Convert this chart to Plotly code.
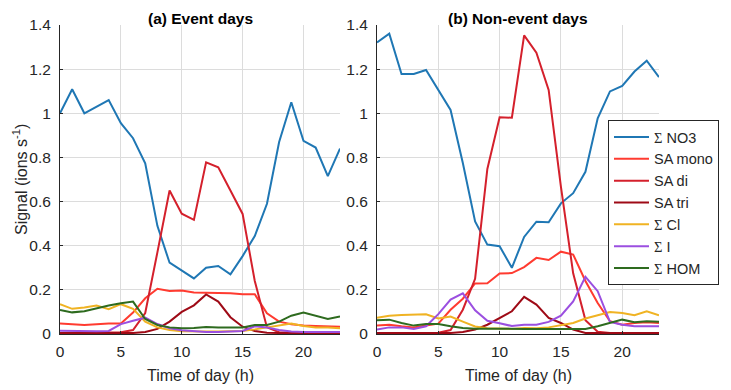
import plotly.graph_objects as go

# --- Data: hourly means, hour of day 0..23
hours = list(range(24))

names = ["\u03a3 NO3", "SA mono", "SA di", "SA tri", "\u03a3 Cl", "\u03a3 I", "\u03a3 HOM"]
colors = ["#1f77b4", "#ff3b30", "#d4202c", "#9e0a16", "#f0b323", "#9b4fe0", "#2e6b1f"]

# (a) Event days
ev_no3 = [1.0, 1.109, 1.0, 1.03, 1.06, 0.955, 0.887, 0.773, 0.49, 0.323, 0.287, 0.252,
          0.30, 0.308, 0.27, 0.353, 0.444, 0.59, 0.87, 1.05, 0.875, 0.845, 0.715, 0.84]
ev_mono = [0.048, 0.044, 0.041, 0.044, 0.048, 0.048, 0.097, 0.162, 0.205, 0.195, 0.197, 0.188,
           0.188, 0.188, 0.185, 0.18, 0.18, 0.094, 0.056, 0.044, 0.038, 0.036, 0.036, 0.033]
ev_di = [0.005, 0.005, 0.005, 0.005, 0.006, 0.008, 0.018, 0.095, 0.37, 0.65, 0.545, 0.517,
         0.778, 0.755, 0.65, 0.544, 0.24, 0.03, 0.008, 0.005, 0.004, 0.004, 0.004, 0.004]
ev_tri = [0.004, 0.004, 0.004, 0.004, 0.004, 0.004, 0.005, 0.009, 0.023, 0.056, 0.1, 0.13,
          0.179, 0.147, 0.076, 0.033, 0.014, 0.006, 0.003, 0.003, 0.003, 0.003, 0.003, 0.003]
ev_cl = [0.135, 0.114, 0.12, 0.129, 0.112, 0.135, 0.114, 0.056, 0.03, 0.018, 0.012, 0.01,
         0.011, 0.011, 0.011, 0.014, 0.021, 0.03, 0.039, 0.048, 0.036, 0.03, 0.03, 0.026]
ev_i = [0.015, 0.014, 0.012, 0.012, 0.014, 0.045, 0.06, 0.074, 0.045, 0.026, 0.017, 0.012,
        0.009, 0.009, 0.012, 0.014, 0.035, 0.03, 0.018, 0.011, 0.009, 0.009, 0.009, 0.009]
ev_hom = [0.109, 0.098, 0.103, 0.117, 0.129, 0.139, 0.147, 0.068, 0.041, 0.03, 0.026, 0.027,
          0.032, 0.03, 0.029, 0.03, 0.041, 0.041, 0.056, 0.083, 0.097, 0.083, 0.068, 0.079]

# (b) Non-event days
ne_no3 = [1.321, 1.361, 1.178, 1.178, 1.196, 1.105, 1.015, 0.775, 0.51, 0.405, 0.398, 0.30,
          0.44, 0.509, 0.506, 0.592, 0.638, 0.735, 0.977, 1.099, 1.124, 1.189, 1.238, 1.164]
ne_mono = [0.038, 0.042, 0.035, 0.03, 0.038, 0.047, 0.11, 0.16, 0.229, 0.23, 0.274, 0.276,
           0.303, 0.345, 0.335, 0.373, 0.36, 0.24, 0.14, 0.058, 0.042, 0.05, 0.053, 0.05]
ne_di = [0.005, 0.005, 0.005, 0.005, 0.005, 0.006, 0.018, 0.11, 0.25, 0.748, 0.982, 0.98,
         1.353, 1.275, 1.106, 0.668, 0.275, 0.063, 0.01, 0.005, 0.005, 0.005, 0.005, 0.005]
ne_tri = [0.005, 0.005, 0.005, 0.005, 0.005, 0.005, 0.005, 0.009, 0.02, 0.042, 0.073, 0.103,
          0.168, 0.133, 0.073, 0.05, 0.02, 0.005, 0.005, 0.005, 0.005, 0.005, 0.005, 0.005]
ne_cl = [0.073, 0.083, 0.086, 0.089, 0.089, 0.07, 0.079, 0.056, 0.034, 0.026, 0.023, 0.023,
         0.027, 0.026, 0.03, 0.039, 0.05, 0.07, 0.085, 0.1, 0.095, 0.085, 0.103, 0.085]
ne_i = [0.02, 0.03, 0.03, 0.023, 0.035, 0.09, 0.156, 0.184, 0.107, 0.06, 0.049, 0.036,
        0.042, 0.042, 0.055, 0.083, 0.148, 0.259, 0.194, 0.055, 0.042, 0.035, 0.035, 0.035]
ne_hom = [0.062, 0.065, 0.05, 0.038, 0.045, 0.045, 0.035, 0.027, 0.024, 0.023, 0.023, 0.023,
          0.023, 0.023, 0.023, 0.023, 0.02, 0.023, 0.035, 0.05, 0.065, 0.053, 0.058, 0.055]

event = [ev_no3, ev_mono, ev_di, ev_tri, ev_cl, ev_i, ev_hom]
nonevent = [ne_no3, ne_mono, ne_di, ne_tri, ne_cl, ne_i, ne_hom]

y_ticks = [0, 0.2, 0.4, 0.6, 0.8, 1.0, 1.2, 1.4]
x_ticks = [0, 5, 10, 15, 20]

FONT = "Liberation Sans, Arial, sans-serif"
INK = "#262626"
W, H = 731, 390
OFF = 8  # the page body adds an 8px margin, so place things 8px up/left


def xp(px):
    return (px - OFF) / W


def yp(py):
    return 1 - (py - OFF) / H


def legend_name(n):
    # sigma drawn in a serif face like the original
    if n.startswith("\u03a3"):
        return '<span style="font-family:Liberation Serif, serif">\u03a3</span>' + n[1:]
    return n


fig = go.Figure()
for i in range(len(names)):
    fig.add_trace(go.Scatter(x=hours, y=event[i], mode="lines", name=legend_name(names[i]),
                             line=dict(color=colors[i], width=2), xaxis="x", yaxis="y",
                             legendgroup=names[i]))
for i in range(len(names)):
    fig.add_trace(go.Scatter(x=hours, y=nonevent[i], mode="lines", name=legend_name(names[i]),
                             line=dict(color=colors[i], width=2), xaxis="x2", yaxis="y2",
                             legendgroup=names[i], showlegend=False))

ydom = [yp(334), yp(25)]
axis_common = dict(showgrid=True, gridcolor="#dcdcdc", gridwidth=1, zeroline=False,
                   showline=True, linecolor=INK, linewidth=1, ticks="inside", ticklen=3,
                   tickcolor=INK, automargin=False,
                   tickfont=dict(size=15.5, color=INK, family=FONT))


def label(text, x, y, angle=0, bold=False):
    return dict(text=f"<b>{text}</b>" if bold else text, x=x, y=y, xref="paper", yref="paper",
                showarrow=False, textangle=angle, xanchor="center",
                yanchor="top" if bold else "middle",
                font=dict(size=15.5 if bold else 16, color="black" if bold else INK, family=FONT))


fig.update_layout(
    width=W, height=H,
    margin=dict(l=0, r=0, t=0, b=0, autoexpand=False),
    paper_bgcolor="white", plot_bgcolor="white",
    font=dict(family=FONT, size=16, color=INK),
    xaxis=dict(domain=[xp(60), xp(340)], range=[0, 23], tickvals=x_ticks, anchor="y",
               ticklabelstandoff=3, **axis_common),
    yaxis=dict(domain=ydom, range=[0, 1.4], tickvals=y_ticks, anchor="x",
               ticklabelstandoff=5, **axis_common),
    xaxis2=dict(domain=[xp(377), xp(659)], range=[0, 23], tickvals=x_ticks, anchor="y2",
                ticklabelstandoff=3, **axis_common),
    yaxis2=dict(domain=ydom, range=[0, 1.4], tickvals=y_ticks, anchor="x2",
                ticklabelstandoff=5, **axis_common),
    legend=dict(x=xp(608), y=yp(120), xanchor="left", yanchor="top",
                bgcolor="white", bordercolor=INK, borderwidth=1, itemwidth=35,
                font=dict(size=14.5, color=INK, family=FONT), tracegroupgap=0),
    annotations=[
        label("(a) Event days", xp(200), 1, bold=True),
        label("(b) Non-event days", xp(518), 1, bold=True),
        label("Time of day (h)", xp(200), yp(375)),
        label("Time of day (h)", xp(518), yp(375)),
        label("Signal (ions s<sup>-1</sup>)", xp(20), yp(180), angle=-90),
    ],
)

fig.write_html("out.html")
